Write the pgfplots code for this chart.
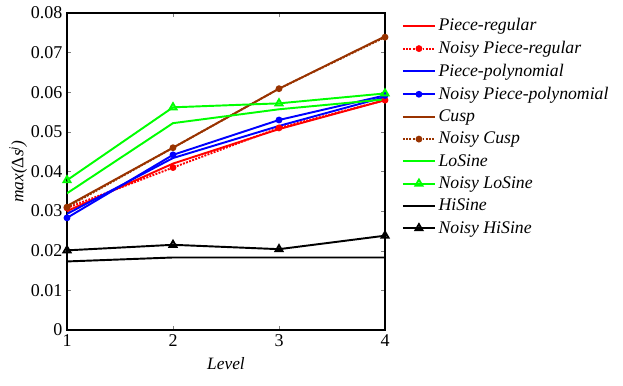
\documentclass[border=0pt]{standalone}
\usepackage{pgfplots}
\pgfplotsset{compat=1.18}
\usepackage{fontspec}
\setmainfont{Liberation Serif}

\definecolor{mred}{RGB}{255,0,0}
\definecolor{mblue}{RGB}{0,0,255}
\definecolor{mbrown}{RGB}{153,51,0}
\definecolor{mgreen}{RGB}{0,255,0}

\begin{document}
\begin{tikzpicture}
\path (0,0) rectangle (467.25pt,288.75pt);
\begin{axis}[
  at={(50.25pt,41.25pt)}, anchor=south west,
  scale only axis,
  width=238.5pt, height=237.75pt,
  xmin=1, xmax=4, ymin=0, ymax=0.08,
  xtick={1,2,3,4},
  ytick={0,0.01,0.02,0.03,0.04,0.05,0.06,0.07,0.08},
  yticklabels={0,0.01,0.02,0.03,0.04,0.05,0.06,0.07,0.08},
  tick align=inside,
  tick pos=both,
  axis line style={line width=0.9pt},
  major tick length=3pt,
  ticklabel style={font=\fontsize{13.5}{15}\selectfont},
  /pgf/number format/assume math mode=true,
  xlabel={\textit{Level}},
  ylabel={\textit{max({\upshape Δ}s\textsuperscript{j})}},
  label style={font=\fontsize{13}{15}\selectfont},
  xlabel style={yshift=-1pt},
  ylabel style={yshift=-4pt},
  scaled y ticks=false,
  legend style={draw=none, fill=none, at={(1.04,1.0)}, anchor=north west,
    font=\fontsize{13.3}{15}\selectfont\itshape, row sep=2.4pt,
    legend cell align=left},
  legend image code/.code={\draw[mark repeat=2, mark phase=2, #1]
    plot coordinates {(0pt,0pt) (12pt,0pt) (24pt,0pt)};},
  plain/.style={line width=1.45pt, mark=none},
  noisy/.style={line width=1.45pt, mark options={solid}},
]
% Piece-regular
\addplot[color=mred, plain] coordinates {(1,0.0300) (2,0.0420) (3,0.0507) (4,0.0580)};
\addlegendentry{Piece-regular}
% Noisy Piece-regular
\addplot[color=mred, noisy, densely dotted, mark=*, mark size=1.8pt] coordinates {(1,0.0308) (2,0.0410) (3,0.0510) (4,0.0580)};
\addlegendentry{Noisy Piece-regular}
% Piece-polynomial
\addplot[color=mblue, plain] coordinates {(1,0.0293) (2,0.0434) (3,0.0515) (4,0.0588)};
\addlegendentry{Piece-polynomial}
% Noisy Piece-polynomial
\addplot[color=mblue, noisy, mark=*, mark size=1.8pt] coordinates {(1,0.0283) (2,0.0442) (3,0.0530) (4,0.0592)};
\addlegendentry{Noisy Piece-polynomial}
% Cusp
\addplot[color=mbrown, plain] coordinates {(1,0.0313) (2,0.0460) (3,0.0609) (4,0.0741)};
\addlegendentry{Cusp}
% Noisy Cusp
\addplot[color=mbrown, noisy, densely dotted, mark=*, mark size=1.8pt] coordinates {(1,0.0310) (2,0.0460) (3,0.0609) (4,0.0739)};
\addlegendentry{Noisy Cusp}
% LoSine
\addplot[color=mgreen, plain] coordinates {(1,0.0345) (2,0.0522) (3,0.0557) (4,0.0582)};
\addlegendentry{LoSine}
% Noisy LoSine
\addplot[color=mgreen, noisy, mark=triangle, mark size=3pt] coordinates {(1,0.0378) (2,0.0562) (3,0.0572) (4,0.0597)};
\addlegendentry{Noisy LoSine}
% HiSine
\addplot[color=black, plain] coordinates {(1,0.0173) (2,0.0183) (3,0.0183) (4,0.0183)};
\addlegendentry{HiSine}
% Noisy HiSine
\addplot[color=black, noisy, mark=triangle, mark size=3pt] coordinates {(1,0.0201) (2,0.0215) (3,0.0204) (4,0.0238)};
\addlegendentry{Noisy HiSine}
\end{axis}
\end{tikzpicture}
\end{document}
